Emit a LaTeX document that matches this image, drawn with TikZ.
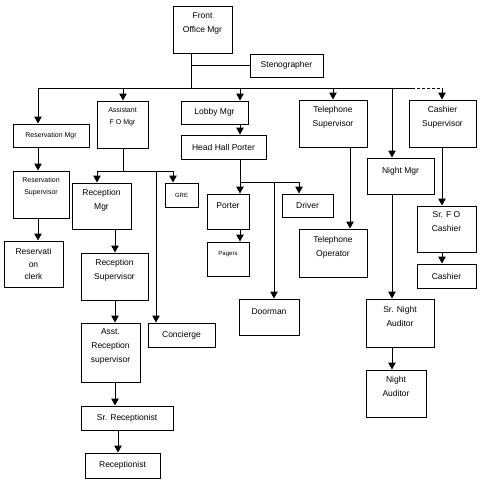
\documentclass[tikz,border=0pt]{standalone}
\usepackage{fontspec}
\setmainfont{Liberation Sans}
\usetikzlibrary{arrows.meta}

\begin{document}
\begin{tikzpicture}[
x=1pt, y=-1pt,
    box/.style = {rectangle, draw, line width=1pt, align=center,% boxes of the chart
                  inner sep=1pt, font=\fontsize{8.5}{14}\selectfont},
  small/.style = {font=\fontsize{7}{12}\selectfont},
   tiny/.style = {font=\fontsize{6}{8}\selectfont},
     wh/.style 2 args = {minimum width=#1pt, minimum height=#2pt},
   lift/.style = {text depth=#1},% pushes the text up in tall boxes
   lift/.default = 14pt,
     ln/.style = {line width=1pt},
    arr/.style = {line width=1pt, -{Triangle[length=7pt,width=7.5pt]}},
                        ]
\useasboundingbox (0,0) rectangle (482,480);
% top
\node[box, wh={59}{47}, lift] (fom) at (202.5,29.5) {Front\\Office Mgr};
\node[box, wh={73}{23}] (steno) at (286.5,65.5) {Stenographer};
% first row
\node[box, small, wh={76}{23}] (resmgr) at (51,135.5) {Reservation Mgr};
\node[box, small, wh={51}{47}, lift=18pt] (afom) at (122.5,124.5) {Assistant\\F O Mgr};
\node[box, wh={67}{23}] (lobby) at (214.5,112.5) {Lobby Mgr};
\node[box, wh={85}{24}] (hhp) at (223.5,147) {Head Hall Porter};
\node[box, wh={68}{47}, lift] (ts) at (333,123.5) {Telephone\\Supervisor};
\node[box, wh={67}{47}, lift] (cs) at (442.5,123.5) {Cashier\\Supervisor};
\node[box, wh={67}{36}, lift=11pt] (nm) at (400.5,176) {Night Mgr};
% reservation
\node[box, small, wh={56}{47}, lift=18pt] (ressup) at (41,194.5) {Reservation\\Supervisor};
\node[box, wh={59}{46}, font=\fontsize{8.5}{12.5}\selectfont] (resclerk) at (33.5,264) {Reservati\\on\\clerk};
% reception
\node[box, wh={59}{46}, lift] (recmgr) at (101.5,206) {Reception\\Mgr};
\node[box, tiny, wh={33}{24}] (gre) at (181.5,195) {GRE};
\node[box, wh={67}{47}, lift] (recsup) at (114.5,276.5) {Reception\\Supervisor};
\node[box, wh={59}{59}, lift] (asst) at (110.5,352.5) {Asst.\\Reception\\supervisor};
\node[box, wh={67}{24}] (concierge) at (181.5,335) {Concierge};
\node[box, wh={92}{24}] (srrec) at (127,418) {Sr. Receptionist};
\node[box, wh={75}{25}] (recep) at (122.5,465.5) {Receptionist};
% porters
\node[box, wh={42}{35}, lift=11pt] (porter) at (228,211.5) {Porter};
\node[box, tiny, wh={42}{34}, lift=11pt] (pagers) at (228,259) {Pagers};
\node[box, wh={51}{23}] (driver) at (307.5,205.5) {Driver};
\node[box, wh={60}{36}, lift=10pt] (doorman) at (269,317) {Doorman};
% telephone, night, cashier
\node[box, wh={68}{48}, lift] (to) at (333,253) {Telephone\\Operator};
\node[box, wh={68}{48}, lift] (sna) at (400,323) {Sr. Night\\Auditor};
\node[box, wh={60}{47}, lift] (na) at (396,393.5) {Night\\Auditor};
\node[box, wh={59}{46}, lift] (srfoc) at (446.5,229) {Sr. F O\\Cashier};
\node[box, wh={59}{24}] (cashier) at (446.5,276) {Cashier};

% bus under the front office mgr
\coordinate (b0) at (191,88);
\coordinate (b1) at (38,88);
\coordinate (b2) at (123,88);
\coordinate (b3) at (240,88);
\coordinate (b4) at (333,88);
\coordinate (b5) at (392,88);
\coordinate (b6) at (412,88);
\coordinate (b7) at (442,88);
\draw[ln] (b0 |- fom.south) -- (b0);
\draw[ln] (b0 |- steno.west) -- (steno.west);
\draw[ln] (b1) -- (b6);
\draw[ln, dash pattern=on 3pt off 2pt] (b6) -- (b7);
\foreach \b/\n in {b1/resmgr, b2/afom, b3/lobby, b4/ts, b5/nm, b7/cs}
    \draw[arr] (\b) -- (\b |- \n.north);

% reservation
\draw[arr] (b1 |- resmgr.south) -- (b1 |- ressup.north);
\draw[arr] (b1 |- ressup.south) -- (b1 |- resclerk.north);

% assistant f o mgr
\coordinate (a0) at (123,171);
\coordinate (a1) at (97,171);
\coordinate (a2) at (156,171);
\coordinate (a3) at (173,171);
\draw[ln] (b2 |- afom.south) -- (a0);
\draw[ln] (a1) -- (a3);
\draw[arr] (a1) -- (a1 |- recmgr.north);
\draw[arr] (a2) -- (a2 |- concierge.north);
\draw[arr] (a3) -- (a3 |- gre.north);
\coordinate (rx) at (115,0);
\coordinate (ry) at (118,0);
\draw[arr] (rx |- recmgr.south) -- (rx |- recsup.north);
\draw[arr] (rx |- recsup.south) -- (rx |- asst.north);
\draw[arr] (rx |- asst.south) -- (rx |- srrec.north);
\draw[arr] (ry |- srrec.south) -- (ry |- recep.north);

% lobby and porters
\draw[arr] (b3 |- lobby.south) -- (b3 |- hhp.north);
\coordinate (p0) at (240,182);
\coordinate (p1) at (274,182);
\coordinate (p2) at (299,182);
\draw[ln] (b3 |- hhp.south) -- (p0) -- (p2);
\draw[arr] (p0) -- (p0 |- porter.north);
\draw[arr] (p1) -- (p1 |- doorman.north);
\draw[arr] (p2) -- (p2 |- driver.north);
\draw[arr] (p0 |- porter.south) -- (p0 |- pagers.north);

% telephone, night, cashier
\coordinate (tx) at (350,0);
\draw[arr] (tx |- ts.south) -- (tx |- to.north);
\draw[arr] (b5 |- nm.south) -- (b5 |- sna.north);
\draw[arr] (b5 |- sna.south) -- (b5 |- na.north);
\draw[arr] (b7 |- cs.south) -- (b7 |- srfoc.north);
\draw[arr] (b7 |- srfoc.south) -- (b7 |- cashier.north);
\end{tikzpicture}
\end{document}
